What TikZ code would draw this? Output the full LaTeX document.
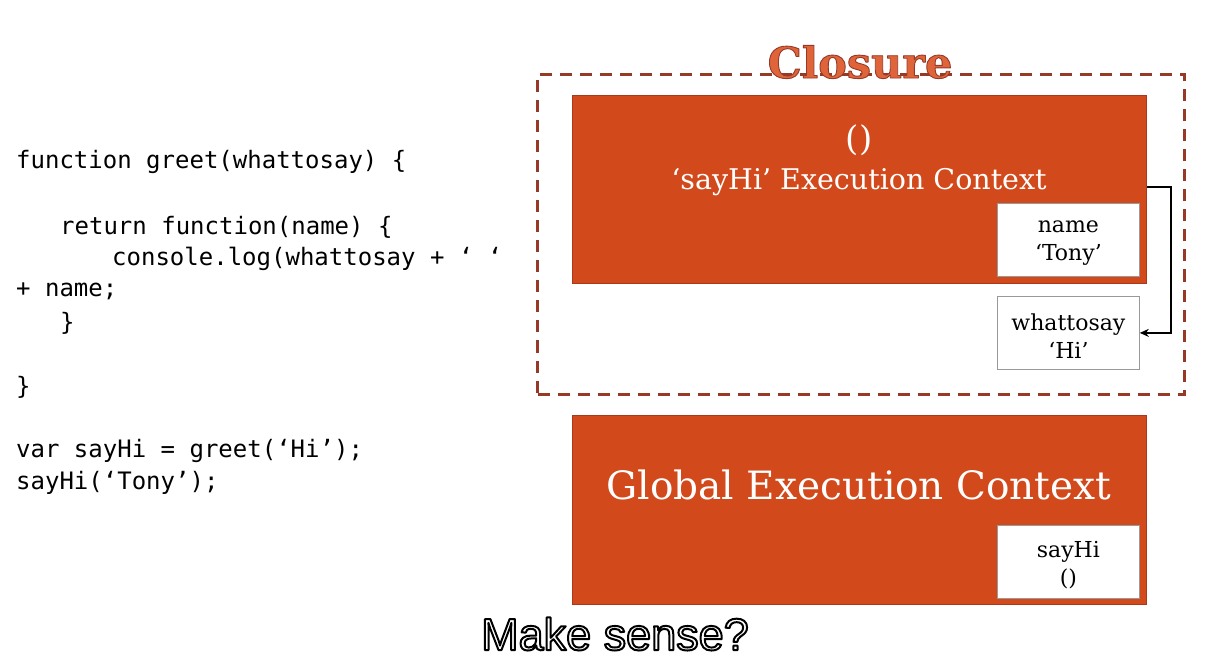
\documentclass[tikz,border=0pt]{standalone}
\usepackage{fontspec}
\setmainfont{DejaVu Serif}
\newfontfamily\codefont{DejaVu Sans Mono}
\newfontfamily\capfont{Liberation Sans}
\newfontfamily\headfont{DejaVu Serif}
\usetikzlibrary{arrows.meta}
\definecolor{ctxfill}{HTML}{D2491B}
\definecolor{ctxedge}{HTML}{A8391A}
\definecolor{dashcol}{HTML}{963A28}
% #1 line width, #2 stroke rgb, #3 fill rgb, #4 text
\newcommand{\outlined}[4]{\special{pdf:literal direct 1 j #1 w #2 RG #3 rg 2 Tr}#4\special{pdf:literal direct 0 Tr}}
\tikzset{
  ctx/.style={draw=ctxedge, line width=1pt, fill=ctxfill},
  varbox/.style={draw=gray!80, line width=0.8pt, fill=white, minimum width=142pt, minimum height=73pt, anchor=north west, inner sep=0pt},
  vartext/.style={align=center, inner sep=0pt, font=\fontsize{22}{28.5}\selectfont},
  code/.style={anchor=west, inner sep=0pt, font=\codefont\fontsize{24}{28}\selectfont},
  closurebox/.style={draw=dashcol, line width=3pt, dash pattern=on 12pt off 8pt},
}
\begin{document}
\begin{tikzpicture}[x=1pt,y=-1pt]
\useasboundingbox (0,0) rectangle (1207,668);
\fill[white] (0,0) rectangle (1207,668);
% closure dashed box
\node[closurebox, minimum width=647pt, minimum height=320pt, anchor=north west, inner sep=0pt] (closure) at (536,73) {};
\node[font=\headfont\bfseries\fontsize{43}{45}\selectfont] (closuretitle) at (860,62) {\outlined{0.9}{0.588 0.227 0.157}{0.878 0.392 0.227}{Closure}};
% sayHi execution context
\node[ctx, minimum width=574pt, minimum height=188pt, anchor=north west, inner sep=0pt] (sayhictx) at (572,95) {};
\node[text=white, font=\fontsize{34}{36}\selectfont] (paren) at (859,140) {()};
\node[text=white, font=\fontsize{28.5}{30}\selectfont] (sayhititle) at (859,182) {‘sayHi’ Execution Context};
\node[varbox] (namebox) at (997,203) {};
\node[vartext] (nametext) at ([yshift=-3pt]namebox.center) {name\\‘Tony’};
\node[varbox] (whatbox) at (997,296) {};
\node[vartext] (whattext) at ([yshift=-3pt]whatbox.center) {whattosay\\‘Hi’};
\draw[line width=2.6pt, -{Stealth[length=9pt,width=8pt]}] (sayhictx.east |- 0,187) -- ++(24,0) |- (whatbox.east);
% global execution context
\node[ctx, minimum width=574pt, minimum height=189pt, anchor=north west, inner sep=0pt] (globalctx) at (572,415) {};
\node[text=white, font=\fontsize{39}{42}\selectfont] (globaltitle) at (859,485) {Global Execution Context};
\node[varbox] (sayhibox) at (997,525) {};
\node[vartext] (sayhitext) at ([yshift=-3pt]sayhibox.center) {sayHi\\()};
% code
\node[code] (c1) at (16,162) {function greet(whattosay) \{};
\node[code] (c2) at (60,227) {return function(name) \{};
\node[code] (c3) at (112,259) {console.log(whattosay + ‘ ‘};
\node[code] (c4) at (16,291) {+ name;};
\node[code] (c5) at (60,323) {\}};
\node[code] (c6) at (16,387) {\}};
\node[code] (c7) at (16,451) {var sayHi = greet(‘Hi’);};
\node[code] (c8) at (16,483) {sayHi(‘Tony’);};
% caption
\node[font=\capfont\fontsize{45}{47}\selectfont] (caption) at (615,634) {\outlined{2}{0 0 0}{1 1 1}{Make sense?}};
\end{tikzpicture}
\end{document}
